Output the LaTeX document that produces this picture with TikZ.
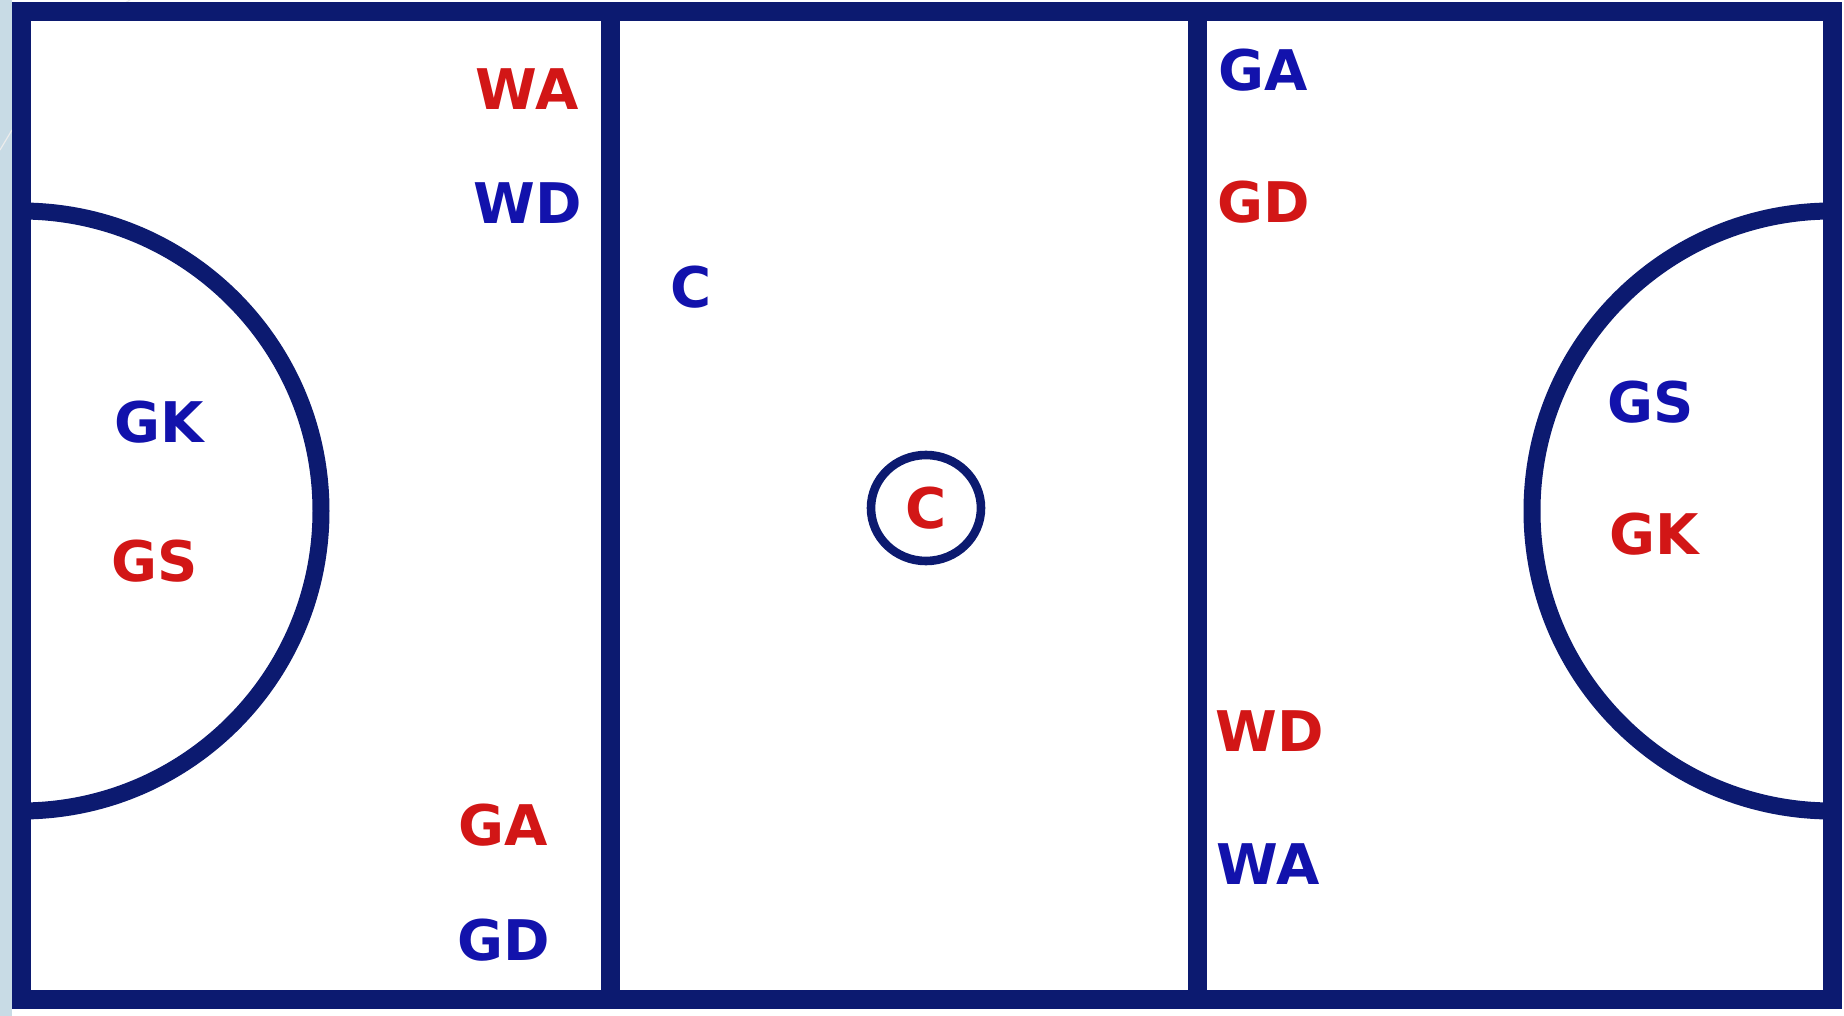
\documentclass[tikz,border=0pt]{standalone}
\usepackage{fontspec}
\setmainfont{DejaVu Sans}
\definecolor{courtline}{RGB}{12,26,112}
\definecolor{posblue}{RGB}{18,18,172}
\definecolor{posred}{RGB}{210,22,22}
\definecolor{strip}{RGB}{200,219,229}
\tikzset{
  court/.style={draw=courtline, line width=9.5pt},
  arcline/.style={draw=courtline, line width=8.5pt},
  poslabel/.style={inner sep=0pt, font=\fontsize{28}{30}\selectfont\bfseries},
  bluepos/.style={poslabel, text=posblue},
  redpos/.style={poslabel, text=posred}
}
\begin{document}
\begin{tikzpicture}[x=0.5pt,y=-0.5pt]
\useasboundingbox (0,0) rectangle (1844,1016);
\fill[white] (0,0) rectangle (1844,1016);
\fill[strip] (0,0) rectangle (12,1016);
\draw[white!85!gray, line width=0.6pt] (12,130) -- (0,150);
\draw[white!85!gray, line width=0.6pt] (130,0) -- (122,5);
% court
\draw[court] (21,12) rectangle (1832,999);
\draw[court] (610,12) -- (610,999);
\draw[court] (1197,12) -- (1197,999);
% goal circles
\draw[arcline] (21,211) arc[start angle=90, end angle=-90, radius=150pt];
\draw[arcline] (1832,211) arc[start angle=90, end angle=270, radius=150pt];
% centre circle
\draw[courtline, line width=4.3pt] (926,508) ellipse [x radius=27.5pt, y radius=26.5pt];
% positions
\node[redpos]  (lwa) at (527,89)  {WA};
\node[bluepos] (lwd) at (528,203) {WD};
\node[bluepos] (lc)  at (691,287) {C};
\node[bluepos] (lgk) at (159,422) {GK};
\node[redpos]  (lgs) at (155,561) {GS};
\node[redpos]  (lga) at (503,825) {GA};
\node[bluepos] (lgd) at (504,940) {GD};
\node[redpos]  (cc)  at (926,508) {C};
\node[bluepos] (rga) at (1263,70) {GA};
\node[redpos]  (rgd) at (1264,202) {GD};
\node[bluepos] (rgs) at (1651,402) {GS};
\node[redpos]  (rgk) at (1654,534) {GK};
\node[redpos]  (rwd) at (1270,731) {WD};
\node[bluepos] (rwa) at (1268,864) {WA};
\end{tikzpicture}
\end{document}
